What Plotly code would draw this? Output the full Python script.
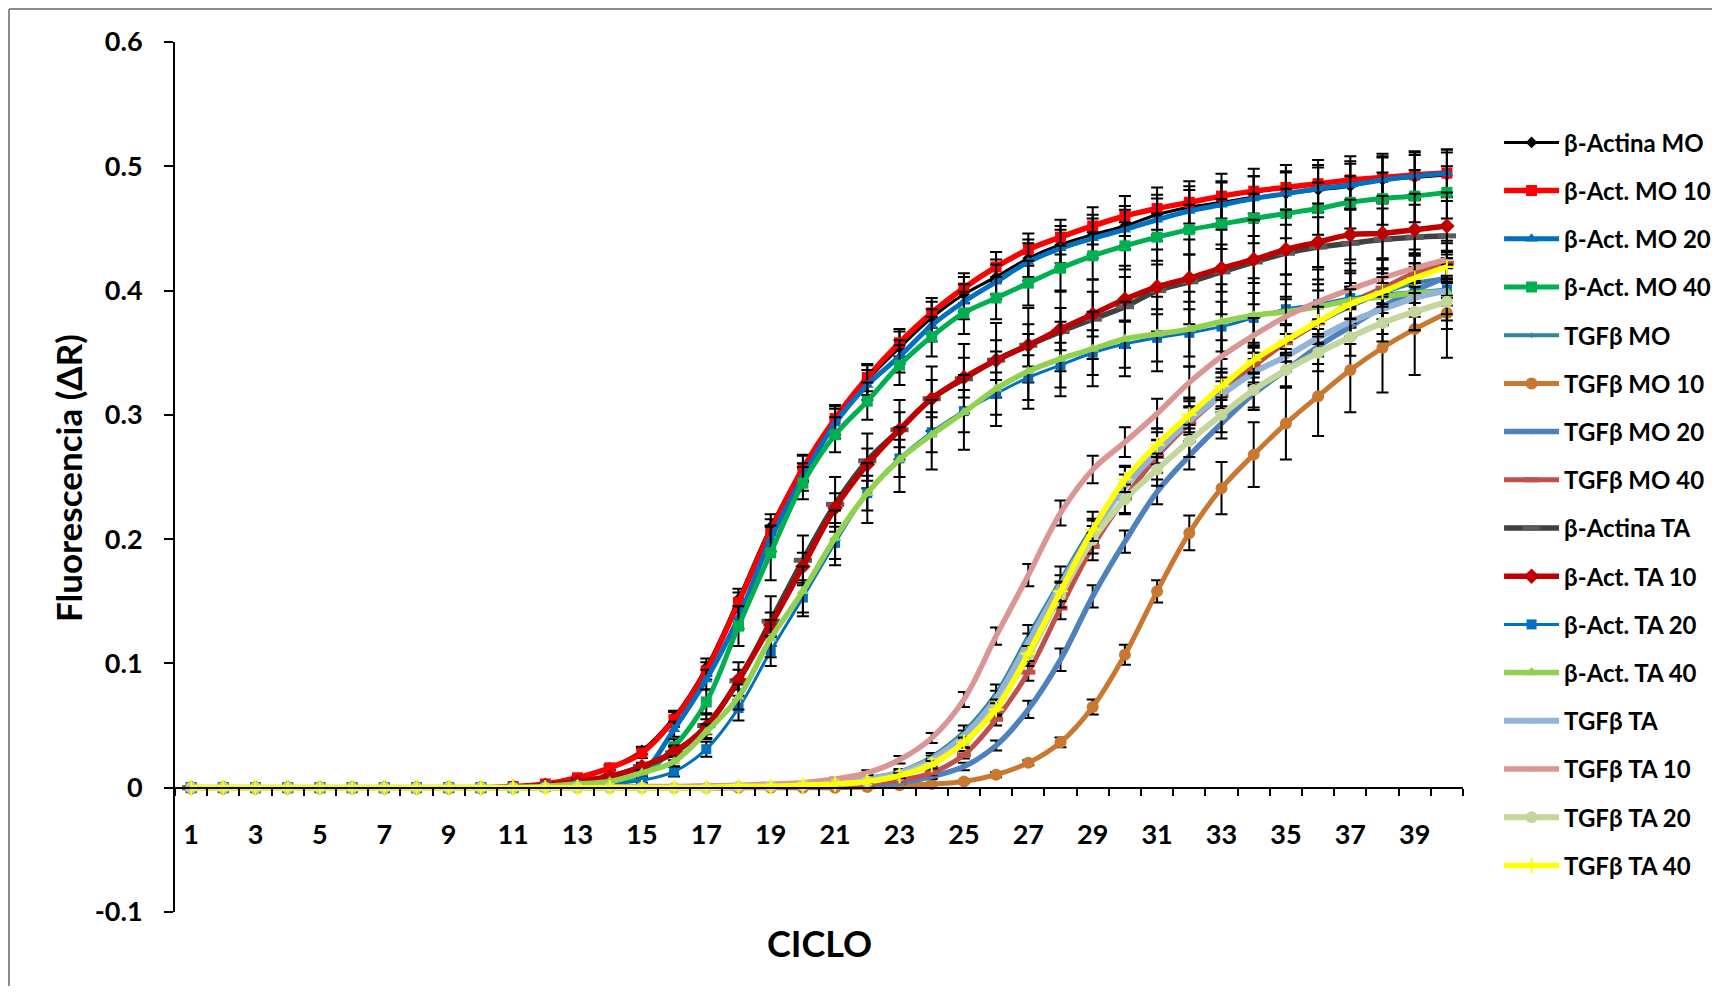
import plotly.graph_objects as go

cycles = list(range(1, 41))
tick_labels = [str(c) for c in range(1, 40, 2)]
y_ticks = [-0.1, 0, 0.1, 0.2, 0.3, 0.4, 0.5, 0.6]
y_tick_labels = ["-0.1", "0", "0.1", "0.2", "0.3", "0.4", "0.5", "0.6"]

names = ["β-Actina MO", "β-Act. MO 10", "β-Act. MO 20", "β-Act. MO 40",
         "TGFβ MO", "TGFβ MO 10", "TGFβ MO 20", "TGFβ MO 40",
         "β-Actina TA", "β-Act. TA 10", "β-Act. TA 20", "β-Act. TA 40",
         "TGFβ TA", "TGFβ TA 10", "TGFβ TA 20", "TGFβ TA 40"]

z10 = [0] * 10
act_mo = z10 + [0.001, 0.003, 0.007, 0.016, 0.030, 0.057, 0.097, 0.152, 0.210, 0.257,
                0.296, 0.328, 0.354, 0.378, 0.397, 0.411, 0.426, 0.437, 0.445, 0.452,
                0.461, 0.467, 0.471, 0.475, 0.478, 0.481, 0.484, 0.489, 0.491, 0.493]
act_mo10 = z10 + [0.001, 0.003, 0.008, 0.016, 0.028, 0.055, 0.094, 0.149, 0.207, 0.257,
                  0.297, 0.330, 0.358, 0.382, 0.402, 0.419, 0.433, 0.443, 0.452, 0.460,
                  0.466, 0.471, 0.476, 0.480, 0.483, 0.486, 0.489, 0.491, 0.493, 0.4945]
act_mo20 = z10 + [0.000, 0.001, 0.002, 0.004, 0.012, 0.047, 0.087, 0.137, 0.200, 0.250,
                  0.293, 0.324, 0.347, 0.372, 0.391, 0.407, 0.423, 0.434, 0.442, 0.449,
                  0.457, 0.464, 0.469, 0.474, 0.478, 0.482, 0.485, 0.489, 0.492, 0.4945]
act_mo40 = z10 + [0.000, 0.001, 0.002, 0.003, 0.010, 0.033, 0.069, 0.130, 0.189, 0.245,
                  0.284, 0.311, 0.340, 0.363, 0.382, 0.394, 0.406, 0.418, 0.428, 0.436,
                  0.443, 0.449, 0.4535, 0.458, 0.462, 0.466, 0.471, 0.474, 0.476, 0.479]
tgf_mo = z10 + [0, 0, 0, 0, 0, 0, 0.0005, 0.001, 0.002, 0.003,
                0.005, 0.008, 0.013, 0.025, 0.045, 0.076, 0.122, 0.167, 0.210, 0.246,
                0.275, 0.300, 0.322, 0.341, 0.358, 0.374, 0.387, 0.398, 0.406, 0.410]
tgf_mo10 = z10 + [0, 0, 0, 0, 0, 0, 0, 0, 0, 0,
                  0, 0.0005, 0.002, 0.003, 0.005, 0.0105, 0.020, 0.0365, 0.065, 0.107,
                  0.158, 0.205, 0.241, 0.268, 0.293, 0.315, 0.336, 0.354, 0.369, 0.382]
tgf_mo20 = z10 + [0, 0, 0, 0, 0, 0, 0, 0.0005, 0.001, 0.001,
                  0.001, 0.002, 0.004, 0.009, 0.017, 0.034, 0.063, 0.103, 0.154, 0.198,
                  0.238, 0.267, 0.293, 0.317, 0.336, 0.355, 0.371, 0.387, 0.400, 0.411]
tgf_mo40 = z10 + [0, 0, 0, 0, 0, 0, 0, 0, 0.001, 0.001,
                  0.002, 0.003, 0.006, 0.012, 0.0265, 0.055, 0.093, 0.1445, 0.194, 0.233,
                  0.2665, 0.293, 0.316, 0.339, 0.358, 0.374, 0.390, 0.402, 0.414, 0.422]
act_ta = z10 + [0.0005, 0.002, 0.005, 0.009, 0.017, 0.028, 0.050, 0.086, 0.134, 0.183,
                0.228, 0.263, 0.288, 0.313, 0.329, 0.344, 0.356, 0.367, 0.377, 0.387,
                0.400, 0.407, 0.415, 0.423, 0.430, 0.435, 0.438, 0.441, 0.443, 0.444]
act_ta10 = z10 + [0.0005, 0.002, 0.005, 0.009, 0.017, 0.029, 0.049, 0.087, 0.131, 0.178,
                  0.225, 0.260, 0.288, 0.313, 0.330, 0.344, 0.356, 0.369, 0.381, 0.393,
                  0.403, 0.410, 0.418, 0.425, 0.433, 0.439, 0.445, 0.446, 0.449, 0.452]
act_ta20 = z10 + [0.000, 0.001, 0.002, 0.003, 0.006, 0.013, 0.031, 0.064, 0.110, 0.153,
                  0.197, 0.237, 0.265, 0.286, 0.303, 0.317, 0.330, 0.340, 0.350, 0.357,
                  0.362, 0.366, 0.371, 0.378, 0.385, 0.389, 0.394, 0.397, 0.399, 0.401]
act_ta40 = z10 + [0.000, 0.001, 0.003, 0.005, 0.012, 0.021, 0.045, 0.073, 0.120, 0.158,
                  0.201, 0.237, 0.264, 0.284, 0.302, 0.321, 0.335, 0.345, 0.353, 0.361,
                  0.365, 0.369, 0.375, 0.380, 0.383, 0.387, 0.392, 0.395, 0.398, 0.399]
tgf_ta = z10 + [0, 0, 0, 0, 0, 0, 0.0005, 0.001, 0.002, 0.003,
                0.004, 0.007, 0.012, 0.023, 0.042, 0.072, 0.117, 0.163, 0.206, 0.242,
                0.270, 0.295, 0.316, 0.334, 0.347, 0.362, 0.375, 0.385, 0.394, 0.400]
tgf_ta10 = z10 + [0, 0, 0, 0.0005, 0.001, 0.001, 0.0015, 0.002, 0.003, 0.004,
                  0.007, 0.012, 0.0225, 0.040, 0.071, 0.122, 0.171, 0.221, 0.256, 0.278,
                  0.301, 0.326, 0.347, 0.364, 0.379, 0.391, 0.401, 0.410, 0.418, 0.425]
tgf_ta20 = z10 + [0, 0, 0, 0, 0, 0, 0, 0.001, 0.001, 0.002,
                  0.003, 0.005, 0.010, 0.020, 0.036, 0.065, 0.106, 0.155, 0.1995, 0.232,
                  0.256, 0.279, 0.300, 0.320, 0.336, 0.350, 0.3625, 0.374, 0.383, 0.391]
tgf_ta40 = z10 + [0, 0, 0, 0, 0, 0, 0, 0.001, 0.001, 0.002,
                  0.003, 0.005, 0.0097, 0.0185, 0.0365, 0.063, 0.108, 0.158, 0.2075, 0.248,
                  0.276, 0.300, 0.323, 0.344, 0.360, 0.375, 0.389, 0.399, 0.410, 0.419]

# error bars (± values)
e_act_mo = z10 + [0, 0, 0.001, 0.002, 0.003, 0.005, 0.007, 0.008, 0.010, 0.011,
                  0.012, 0.012, 0.013, 0.013, 0.014, 0.014, 0.015, 0.015, 0.016, 0.016,
                  0.016, 0.017, 0.017, 0.017, 0.017, 0.018, 0.018, 0.018, 0.018, 0.018]
e_act_mo10 = z10 + [0, 0, 0.001, 0.002, 0.004, 0.006, 0.007, 0.008, 0.009, 0.010,
                    0.010, 0.011, 0.011, 0.012, 0.012, 0.012, 0.013, 0.014, 0.015, 0.016,
                    0.017, 0.017, 0.018, 0.018, 0.018, 0.019, 0.019, 0.019, 0.019, 0.019]
e_act_mo20 = z10 + [0, 0, 0.001, 0.002, 0.003, 0.006, 0.008, 0.009, 0.010, 0.011,
                    0.012, 0.012, 0.013, 0.013, 0.014, 0.014, 0.015, 0.015, 0.016, 0.016,
                    0.017, 0.017, 0.018, 0.018, 0.018, 0.019, 0.019, 0.019, 0.019, 0.019]
e_act_mo40 = z10 + [0, 0, 0.001, 0.002, 0.003, 0.006, 0.010, 0.016, 0.022, 0.013,
                    0.014, 0.015, 0.016, 0.016, 0.017, 0.017, 0.018, 0.018, 0.019, 0.019,
                    0.019, 0.020, 0.020, 0.020, 0.020, 0.021, 0.021, 0.021, 0.021, 0.021]
e_tgf_mo = z10 + [0, 0, 0, 0, 0, 0, 0, 0, 0, 0,
                  0.001, 0.002, 0.002, 0.003, 0.005, 0.007, 0.009, 0.011, 0.012, 0.013,
                  0.014, 0.014, 0.015, 0.015, 0.015, 0.016, 0.016, 0.016, 0.016, 0.016]
e_tgf_mo10 = z10 + [0, 0, 0, 0, 0, 0, 0, 0, 0, 0,
                    0, 0, 0.001, 0.001, 0.001, 0.002, 0.002, 0.004, 0.006, 0.008,
                    0.009, 0.014, 0.021, 0.026, 0.029, 0.032, 0.034, 0.036, 0.037, 0.036]
e_tgf_mo20 = z10 + [0, 0, 0, 0, 0, 0, 0, 0, 0, 0,
                    0, 0.001, 0.001, 0.002, 0.003, 0.004, 0.007, 0.009, 0.009, 0.009,
                    0.010, 0.011, 0.012, 0.013, 0.013, 0.014, 0.014, 0.015, 0.015, 0.015]
e_tgf_mo40 = z10 + [0, 0, 0, 0, 0, 0, 0, 0, 0, 0,
                    0, 0.001, 0.001, 0.002, 0.003, 0.005, 0.007, 0.009, 0.011, 0.012,
                    0.013, 0.014, 0.014, 0.015, 0.015, 0.016, 0.016, 0.016, 0.016, 0.016]
e_act_ta = z10 + [0, 0.001, 0.002, 0.002, 0.003, 0.006, 0.010, 0.015, 0.020, 0.020,
                  0.022, 0.022, 0.024, 0.026, 0.028, 0.030, 0.030, 0.032, 0.032, 0.033,
                  0.033, 0.034, 0.034, 0.034, 0.035, 0.035, 0.035, 0.035, 0.035, 0.035]
e_act_ta10 = z10 + [0, 0.001, 0.001, 0.002, 0.002, 0.004, 0.006, 0.008, 0.010, 0.011,
                    0.012, 0.013, 0.014, 0.015, 0.016, 0.016, 0.017, 0.017, 0.018, 0.018,
                    0.018, 0.019, 0.019, 0.019, 0.020, 0.020, 0.020, 0.020, 0.020, 0.020]
e_act_ta20 = z10 + [0, 0, 0.001, 0.001, 0.002, 0.004, 0.006, 0.010, 0.012, 0.012,
                    0.013, 0.014, 0.015, 0.016, 0.017, 0.017, 0.018, 0.018, 0.018, 0.019,
                    0.019, 0.019, 0.020, 0.020, 0.020, 0.020, 0.020, 0.020, 0.020, 0.020]
e_act_ta40 = z10 + [0, 0, 0.001, 0.001, 0.002, 0.004, 0.006, 0.010, 0.015, 0.020,
                    0.022, 0.024, 0.026, 0.028, 0.030, 0.030, 0.030, 0.030, 0.030, 0.030,
                    0.030, 0.030, 0.030, 0.030, 0.030, 0.030, 0.030, 0.030, 0.030, 0.030]
e_tgf_ta = z10 + [0, 0, 0, 0, 0, 0, 0, 0, 0, 0,
                  0.001, 0.001, 0.002, 0.003, 0.004, 0.006, 0.007, 0.008, 0.009, 0.010,
                  0.010, 0.011, 0.011, 0.011, 0.012, 0.012, 0.012, 0.012, 0.012, 0.012]
e_tgf_ta10 = z10 + [0, 0, 0, 0, 0, 0, 0, 0, 0, 0,
                    0.001, 0.002, 0.003, 0.004, 0.006, 0.007, 0.009, 0.010, 0.011, 0.012,
                    0.012, 0.013, 0.013, 0.014, 0.014, 0.014, 0.015, 0.015, 0.015, 0.015]
e_tgf_ta20 = z10 + [0, 0, 0, 0, 0, 0, 0, 0, 0, 0,
                    0.001, 0.001, 0.002, 0.003, 0.004, 0.006, 0.008, 0.010, 0.011, 0.012,
                    0.013, 0.013, 0.014, 0.014, 0.014, 0.015, 0.015, 0.015, 0.015, 0.015]
e_tgf_ta40 = z10 + [0, 0, 0, 0, 0, 0, 0, 0, 0, 0,
                    0.001, 0.001, 0.002, 0.003, 0.004, 0.005, 0.006, 0.008, 0.009, 0.010,
                    0.010, 0.011, 0.011, 0.011, 0.012, 0.012, 0.012, 0.012, 0.012, 0.012]

values = [act_mo, act_mo10, act_mo20, act_mo40, tgf_mo, tgf_mo10, tgf_mo20, tgf_mo40,
          act_ta, act_ta10, act_ta20, act_ta40, tgf_ta, tgf_ta10, tgf_ta20, tgf_ta40]
errors = [e_act_mo, e_act_mo10, e_act_mo20, e_act_mo40, e_tgf_mo, e_tgf_mo10, e_tgf_mo20, e_tgf_mo40,
          e_act_ta, e_act_ta10, e_act_ta20, e_act_ta40, e_tgf_ta, e_tgf_ta10, e_tgf_ta20, e_tgf_ta40]

colors = ["#000000", "#FF0000", "#0070C0", "#00B050",
          "#31859C", "#C8782F", "#4F81BD", "#C0504D",
          "#404040", "#C00000", "#0070C0", "#92D050",
          "#95B3D7", "#D99694", "#C3D69B", "#FFFF00"]
widths = [3, 5.5, 5, 5, 4, 5, 5.5, 5, 5.5, 5.5, 3, 5.5, 6, 5.5, 6, 5.5]
# (symbol, size, open-line width)
markers = [("diamond", 9, 0), ("square", 11, 0), ("triangle-up", 11, 0), ("square", 11, 0),
           ("line-ns-open", 4, 1), ("circle", 12, 0), ("line-ns-open", 4, 1), ("line-ew-open", 10, 5),
           ("line-ew-open", 13, 5), ("diamond", 12, 0), ("square", 10, 0), ("triangle-up", 11, 0),
           ("line-ns-open", 4, 1), ("line-ns-open", 4, 1), ("circle", 12, 0), ("cross-thin-open", 11, 2)]

FONT = "Lato"

fig = go.Figure()
for i, name in enumerate(names):
    sym, size, lw = markers[i]
    mcol = "#5A5A5A" if i == 8 else colors[i]
    fig.add_trace(go.Scatter(
        x=cycles, y=values[i], name=name, legendgroup=name,
        mode="lines+markers",
        line=dict(color=colors[i], width=widths[i], shape="spline", smoothing=1),
        marker=dict(symbol=sym, size=size, color=mcol,
                    line=dict(color=mcol, width=lw)),
        error_y=dict(type="data", array=errors[i], visible=True,
                     color="black", thickness=2, width=6),
    ))

# The page body adds an 8 px offset; the figure is sized so the plot area
# lands at the intended screen position.
W, H = 1712, 978
L, R, T, B = 167, 257, 34, 74
PW, PH = W - L - R, H - T - B   # 1288 x 870


def px(xs):   # screen x -> paper x
    return (xs - 8 - L) / PW


def py(ys):   # screen y -> paper y
    return (H - B - (ys - 8)) / PH


fig.update_layout(
    width=W, height=H,
    margin=dict(l=L, r=R, t=T, b=B, autoexpand=False),
    paper_bgcolor="white", plot_bgcolor="white",
    font=dict(family=FONT, color="black", size=24, weight="bold"),
    showlegend=True,
    legend=dict(x=1.028, y=0.91, xanchor="left", yanchor="top",
                font=dict(family=FONT, size=24, color="black", weight="bold"),
                tracegroupgap=14, itemwidth=55, bgcolor="rgba(0,0,0,0)"),
    xaxis=dict(range=[0.5, 40.5], anchor="free", position=1/7,
               showline=True, linecolor="black", linewidth=2,
               showgrid=False, zeroline=False,
               tickmode="array", tickvals=list(range(1, 40, 2)), ticktext=tick_labels,
               ticks="outside", ticklen=0, tickcolor="black",
               ticklabelstandoff=23,
               tickfont=dict(family=FONT, size=27, color="black", weight="bold"),
               minor=dict(ticks="outside", tickmode="linear", tick0=0.5, dtick=1,
                          ticklen=7, tickwidth=2, tickcolor="black", showgrid=False)),
    yaxis=dict(range=[-0.1, 0.6], showline=True, linecolor="black", linewidth=2,
               showgrid=False, zeroline=False,
               tickmode="array", tickvals=y_ticks, ticktext=y_tick_labels,
               ticks="outside", ticklen=9, tickwidth=2, tickcolor="black",
               ticklabelstandoff=16,
               tickfont=dict(family=FONT, size=27, color="black", weight="bold")),
    annotations=[
        dict(text="Fluorescencia (ΔR)", xref="paper", yref="paper",
             x=px(68), y=py(478), textangle=-90,
             showarrow=False, xanchor="center", yanchor="middle",
             font=dict(family=FONT, size=35, color="black", weight="bold")),
        dict(text="CICLO", xref="paper", yref="paper",
             x=px(819), y=py(943),
             showarrow=False, xanchor="center", yanchor="middle",
             font=dict(family=FONT, size=36, color="black", weight="bold")),
    ],
    shapes=[
        dict(type="line", xref="paper", yref="paper",
             x0=px(9), x1=px(9), y0=py(1010), y1=py(9),
             line=dict(color="#8C8C8C", width=2)),
        dict(type="line", xref="paper", yref="paper",
             x0=px(9), x1=px(1730), y0=py(9), y1=py(9),
             line=dict(color="#8C8C8C", width=2)),
    ],
)

fig.write_html("out.html")
